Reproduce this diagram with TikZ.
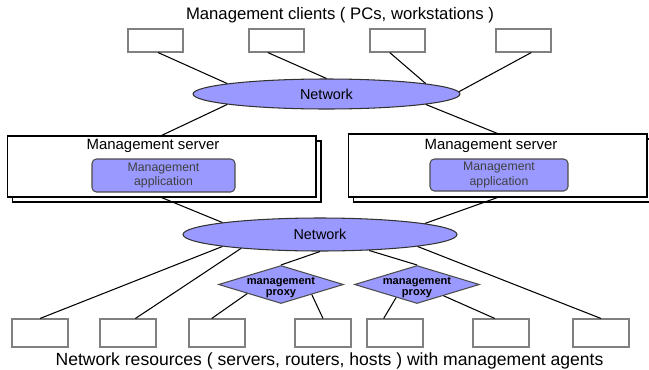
\documentclass[tikz,border=0pt]{standalone}
\usepackage{fontspec}
\setmainfont{Liberation Sans}
\usepackage{tikz}
\usetikzlibrary{shapes.geometric}
\definecolor{lavender}{HTML}{9999FF}
\tikzset{
	hostbox/.style={draw=black!50, line width=0.6pt, fill=white, inner sep=0pt, minimum width=1.1cm, minimum height=0.46cm},
	resbox/.style={hostbox, minimum width=1.12cm, minimum height=0.56cm},
	netcloud/.style={ellipse, draw=black!80, line width=0.6pt, fill=lavender, inner sep=0pt, font=\fontsize{8.2}{10}\selectfont},
	srvbox/.style={draw, line width=0.6pt, fill=white, inner sep=0pt},
	srvtext/.style={font=\fontsize{8.5}{10}\selectfont},
	appbox/.style={draw=black!70, line width=0.6pt, fill=lavender, rounded corners=2.5pt, inner sep=0pt, align=center, text=black!75, font=\fontsize{7}{8.4}\selectfont},
	proxybox/.style={diamond, draw=black!70, line width=0.6pt, fill=lavender, inner sep=0pt, minimum width=2.5cm, minimum height=0.76cm},
	proxytext/.style={align=center, font=\bfseries\fontsize{6.3}{6.4}\selectfont},
	bigtext/.style={font=\fontsize{9.5}{11}\selectfont},
	link/.style={line width=0.6pt}
}

\begin{document}
\begin{tikzpicture}[x=0.02cm, y=-0.02cm]
		%%%%% START %%%%%
		\useasboundingbox (0,0) rectangle (649,369);
		
		% clients on top
		\node[bigtext] (ctitle) at (340,15) {Management clients ( PCs, workstations )};
		\node[hostbox] (c1) at (155.5,40.5) {};
		\node[hostbox] (c2) at (276.5,40.5) {};
		\node[hostbox] (c3) at (397.5,40.5) {};
		\node[hostbox] (c4) at (523.5,40.5) {};
		
		\node[netcloud, minimum width=5.34cm, minimum height=0.6cm] (net1) at (326.5,94) {Network};
		
		% two management servers
		\node[srvbox, minimum width=6.18cm, minimum height=1.22cm] (srvLs) at (166.5,171.5) {};
		\node[srvbox, minimum width=6.18cm, minimum height=1.22cm] (srvL) at (161.5,166.5) {};
		\node[srvtext] (srvLt) at (153,146) {Management server};
		\node[appbox, minimum width=2.86cm, minimum height=0.66cm] (appL) at (163.5,175.5) {Management\\application};
		
		\node[srvbox, minimum width=5.98cm, minimum height=1.26cm] (srvRs) at (502.5,170.5) {};
		\node[srvbox, minimum width=5.98cm, minimum height=1.26cm] (srvR) at (497.5,165.5) {};
		\node[srvtext] (srvRt) at (491,146) {Management server};
		\node[appbox, minimum width=2.76cm, minimum height=0.64cm] (appR) at (499,175) {Management\\application};
		
		\node[netcloud, minimum width=5.48cm, minimum height=0.66cm] (net2) at (320,234.5) {Network};
		
		% proxies
		\node[proxybox] (p1) at (281,284.5) {};
		\node[proxytext] (p1t) at (281,287.5) {management\\proxy};
		\node[proxybox] (p2) at (417,284.5) {};
		\node[proxytext] (p2t) at (417,287.5) {management\\proxy};
		
		% network resources
		\foreach \x [count=\i] in {40,128,217,323,395,501,601}
			\node[resbox] (r\i) at (\x,333) {};
		\node[bigtext, font=\fontsize{10}{12}\selectfont] (rtitle) at (329.5,361) {Network resources ( servers, routers, hosts ) with management agents};
		
		% links
		\draw[link] (c1.282) -- (net1.174);
		\draw[link] (c2.234) -- (net1.90);
		\draw[link] (c3.237) -- (net1.6);
		\draw[link] (c4.303) -- (net1.1);
		
		\draw[link] (net1.186) -- (srvL.north);
		\draw[link] (net1.354) -- (srvR.north);
		\draw[link] (srvL.south) -- (net2.173);
		\draw[link] (srvR.south) -- (net2.6);
		
		\draw[link] (net2.187) -- (r1.north);
		\draw[link] (net2.190) -- (r2.63);
		\draw[link] (net2.270) -- (p1.north);
		\draw[link] (net2.342) -- (p2.north);
		\draw[link] (net2.353) -- (r7.north);
		
		\draw[link] (p1.195) -- (r3.110);
		\draw[link] (p1.342) -- (r4.north);
		\draw[link] (p2.212) -- (r5.128);
		\draw[link] (p2.337) -- (r6.113);
		
		%%%%% END %%%%%
	\end{tikzpicture}
\end{document}
